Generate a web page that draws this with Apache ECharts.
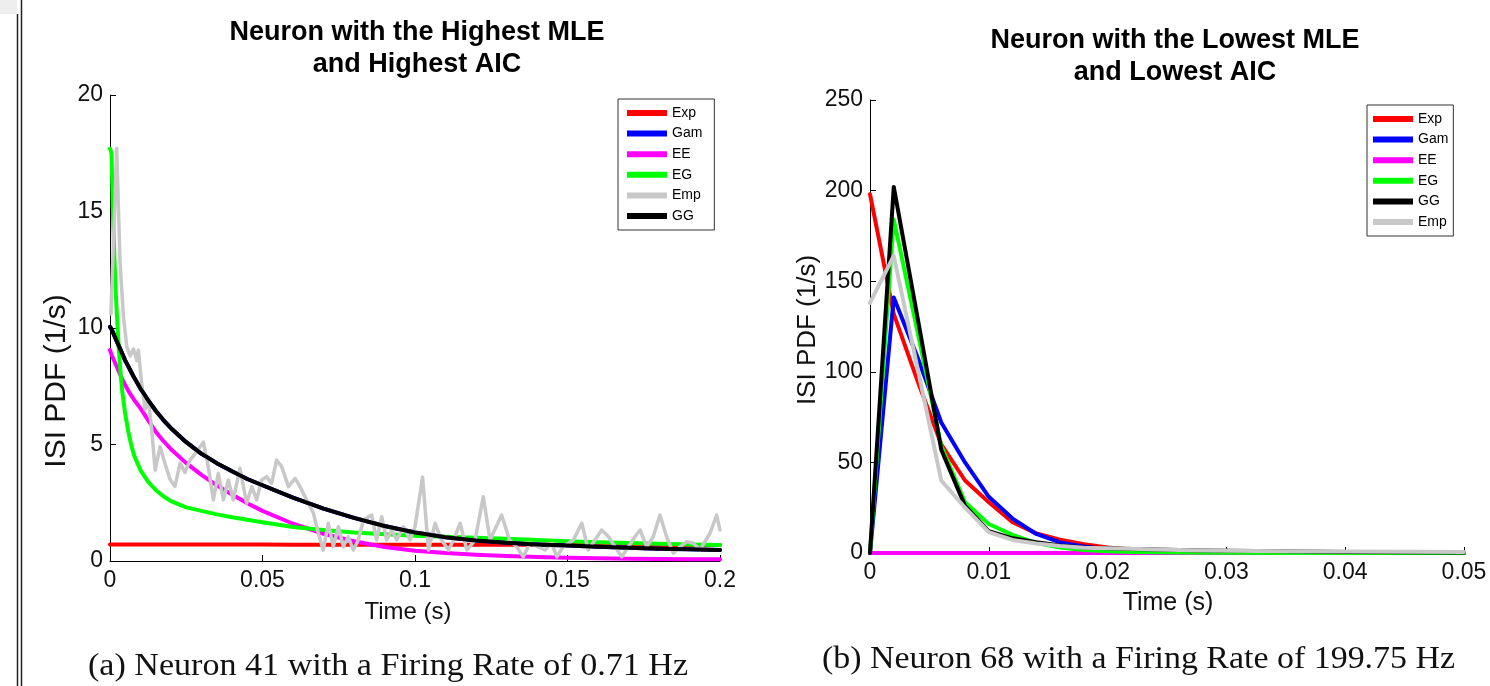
<!DOCTYPE html>
<html>
<head>
<meta charset="utf-8">
<script src="https://cdn.jsdelivr.net/npm/echarts@6/dist/echarts.min.js"></script>
<style>
html,body{margin:0;padding:0;background:#fff;}
#chart{width:1490px;height:686px;}
</style>
</head>
<body>
<div id="chart"></div>
<script>
// ---------------- Left panel (Neuron 41) ----------------
const leftTime = [0, 0.0005, 0.001, 0.0015, 0.002, 0.0025, 0.003, 0.0035, 0.004, 0.005, 0.006, 0.007,
  0.008, 0.01, 0.0125, 0.015, 0.0175, 0.02, 0.025, 0.03, 0.035, 0.04, 0.045, 0.05,
  0.06, 0.07, 0.08, 0.09, 0.1, 0.11, 0.12, 0.13, 0.14, 0.15, 0.16, 0.17, 0.18, 0.19, 0.2];
const leftExp = [0.71, 0.71, 0.71, 0.71, 0.71, 0.71, 0.71, 0.71, 0.71, 0.71, 0.71, 0.71,
  0.71, 0.71, 0.71, 0.71, 0.71, 0.71, 0.71, 0.71, 0.71, 0.71, 0.71, 0.71,
  0.70, 0.70, 0.70, 0.70, 0.70, 0.70, 0.70, 0.70, 0.70, 0.69, 0.69, 0.69, 0.69, 0.69, 0.69];
const leftGG = [10.05, 9.95, 9.8, 9.65, 9.5, 9.35, 9.2, 9.05, 8.9, 8.6, 8.35, 8.1,
  7.85, 7.4, 6.9, 6.45, 6.05, 5.7, 5.1, 4.6, 4.2, 3.85, 3.52, 3.25,
  2.72, 2.25, 1.85, 1.5, 1.22, 1.02, 0.88, 0.78, 0.71, 0.66, 0.61, 0.57, 0.53, 0.5, 0.47];
const leftGam = leftGG.slice(); // the blue curve lies hidden under the black GG curve
const leftEE = [9.05, 8.85, 8.7, 8.55, 8.4, 8.25, 8.1, 7.95, 7.8, 7.55, 7.3, 7.1,
  6.9, 6.55, 6.05, 5.55, 5.15, 4.8, 4.2, 3.7, 3.25, 2.85, 2.48, 2.15,
  1.6, 1.17, 0.85, 0.6, 0.44, 0.34, 0.27, 0.21, 0.17, 0.14, 0.12, 0.1, 0.09, 0.08, 0.07];
const leftEG = [17.7, 17.5, 14.8, 12.8, 11.2, 10.0, 8.9, 8.0, 7.3, 6.3, 5.55, 4.95,
  4.5, 3.9, 3.4, 3.05, 2.78, 2.57, 2.3, 2.15, 2.0, 1.88, 1.77, 1.66,
  1.46, 1.33, 1.22, 1.15, 1.08, 1.04, 1.0, 0.95, 0.9, 0.85, 0.8, 0.77, 0.74, 0.71, 0.69];
const leftEmpTime = [0.0003, 0.0022, 0.0027, 0.0033, 0.0044, 0.0055, 0.0066, 0.0077, 0.0088, 0.0093,
  0.0104, 0.0115, 0.0126, 0.0137, 0.0148, 0.0164, 0.018, 0.0197, 0.0213, 0.023, 0.0246, 0.0262,
  0.0279, 0.0306, 0.0322, 0.0339, 0.0355, 0.0372, 0.0388, 0.0404, 0.0426, 0.0448, 0.0465, 0.0481,
  0.0497, 0.0514, 0.053, 0.0546, 0.0563, 0.0585, 0.0607, 0.0623, 0.0645, 0.0667, 0.0683, 0.0699,
  0.0716, 0.0732, 0.0749, 0.0765, 0.0781, 0.0798, 0.0814, 0.0831, 0.0858, 0.0874, 0.0891, 0.0907,
  0.0924, 0.094, 0.0962, 0.0984, 0.1, 0.1025, 0.1044, 0.1066, 0.1087, 0.111, 0.1126, 0.1148, 0.117,
  0.1197, 0.1224, 0.1246, 0.1284, 0.131, 0.1333, 0.1355, 0.1377, 0.1404, 0.1426, 0.1448, 0.1465,
  0.1486, 0.1519, 0.1547, 0.1568, 0.159, 0.1612, 0.1634, 0.1656, 0.1678, 0.17, 0.1721, 0.1738,
  0.176, 0.1781, 0.1803, 0.1825, 0.1847, 0.1869, 0.1891, 0.1913, 0.1934, 0.1967, 0.1989, 0.2];
const leftEmp = [10.6, 17.7, 17.7, 12.8, 10.5, 9.2, 8.8, 9.1, 8.6, 9.05,
  7.6, 6.5, 6.9, 5.6, 3.9, 4.9, 4.2, 3.5, 3.2, 4.2, 3.8, 4.33,
  4.6, 5.1, 4.05, 2.62, 3.76, 2.62, 3.48, 2.62, 3.98, 2.48, 3.19, 2.62,
  3.48, 3.62, 3.33, 4.33, 4.05, 3.19, 3.55, 3.19, 2.62, 2.05, 1.19, 0.47,
  1.62, 0.61, 1.47, 0.61, 1.04, 0.47, 0.9, 1.76, 1.97, 0.9, 1.9, 0.9,
  1.33, 0.9, 1.47, 0.9, 1.47, 3.6, 0.47, 1.62, 0.9, 0.47, 0.9, 1.62, 0.47,
  0.9, 2.76, 0.9, 1.97, 0.9, 0.61, 0.18, 0.76, 0.61, 0.47, 0.76, 0.18,
  0.61, 0.9, 1.62, 0.47, 0.9, 1.33, 1.05, 0.61, 0.18, 0.61, 1.04, 1.33,
  0.61, 1.04, 1.97, 1.04, 0.33, 0.61, 0.83, 0.76, 0.47, 1.19, 1.97, 1.33];
const leftXTicks = ['0', '0.05', '0.1', '0.15', '0.2'];
const leftYTicks = ['0', '5', '10', '15', '20'];

// ---------------- Right panel (Neuron 68) ----------------
const rightTime = [0, 0.002, 0.004, 0.006, 0.008, 0.01, 0.012, 0.014, 0.016, 0.018, 0.02,
  0.022, 0.024, 0.026, 0.028, 0.03, 0.035, 0.04, 0.045, 0.05];
const rightExp = [198, 132, 95, 60, 40, 28, 17, 10.8, 7.3, 4.8, 3.0, 2.0, 1.3, 0.9, 0.6, 0.4, 0.2, 0.1, 0.05, 0.02];
const rightGam = [0, 141, 108, 72, 50, 31, 19, 10.5, 5.8, 3.6, 2.0, 1.2, 0.7, 0.4, 0.25, 0.15, 0.05, 0.02, 0, 0];
const rightEE = [0, 0, 0, 0, 0, 0, 0, 0, 0, 0, 0, 0, 0, 0, 0, 0, 0, 0, 0, 0];
const rightEG = [0, 184, 122, 59, 28, 16, 10, 5.5, 3.0, 1.7, 1.0, 0.6, 0.4, 0.25, 0.15, 0.1, 0.05, 0.02, 0.01, 0];
const rightGG = [0, 202, 130, 57, 26, 12, 8.1, 6.0, 4.2, 3.1, 2.6, 2.2, 1.9, 1.6, 1.4, 1.2, 0.9, 0.6, 0.4, 0.3];
const rightEmp = [138, 164, 102, 40, 25, 11.5, 7.2, 5.2, 3.9, 2.9, 2.6, 2.4, 2.0, 1.7, 1.4, 1.2, 0.9, 0.8, 0.7, 0.6];
const rightXTicks = ['0', '0.01', '0.02', '0.03', '0.04', '0.05'];
const rightYTicks = ['0', '50', '100', '150', '200', '250'];

const colors = {Exp: '#ff0000', Gam: '#0000ff', EE: '#ff00ff', EG: '#00ff00', Emp: '#c8c8c8', GG: '#000000'};

function pairs(xs, ys) { return xs.map((x, i) => [x, ys[i]]); }
function tickFmt(labels, step) {
  return function (v) { const i = Math.round(v / step); return labels[i] !== undefined ? labels[i] : ''; };
}
function mkSeries(name, xs, ys, idx, width) {
  return {
    name: name, type: 'line', xAxisIndex: idx, yAxisIndex: idx,
    data: pairs(xs, ys), showSymbol: false, symbol: 'none', smooth: false,
    lineStyle: {color: colors[name], width: width, join: 'round', cap: 'round'},
    itemStyle: {color: colors[name]},
    emphasis: {disabled: true}, animation: false, z: 2
  };
}

const FONT = 'Liberation Sans';
const axisCommon = {
  axisLine: {show: true, onZero: false, lineStyle: {color: '#000', width: 1}},
  axisTick: {show: true, inside: true, length: 6, lineStyle: {color: '#000'}},
  splitLine: {show: false}
};
function xAxis(idx, max, step, labels) {
  return Object.assign({}, axisCommon, {
    type: 'value', gridIndex: idx, min: 0, max: max, interval: step,
    axisLabel: {fontFamily: FONT, fontSize: 23, color: '#111', margin: 8, formatter: tickFmt(labels, step), showMaxLabel: true, showMinLabel: true}
  });
}
function yAxis(idx, max, step, labels) {
  return Object.assign({}, axisCommon, {
    type: 'value', gridIndex: idx, min: 0, max: max, interval: step,
    axisLabel: {fontFamily: FONT, fontSize: 23, color: '#111', margin: 7, formatter: tickFmt(labels, step)}
  });
}

const legendCommon = {
  orient: 'vertical', icon: 'rect', itemWidth: 40, itemHeight: 6, itemGap: 6.6,
  borderColor: '#333', borderWidth: 1, borderRadius: 0, backgroundColor: '#fff',
  selectedMode: false,
  textStyle: {fontFamily: FONT, fontSize: 14, color: '#000', lineHeight: 14}
};

function label(text, x, y, size, rot) {
  return {type: 'text', x: x, y: y, rotation: rot || 0, silent: true, z: 10,
    style: {text: text, font: size + 'px "' + FONT + '"', fill: '#111', align: 'center', verticalAlign: 'middle'}};
}

const option = {
  backgroundColor: '#fff',
  animation: false,
  title: [
    {text: 'Neuron with the Highest MLE\nand Highest AIC', left: 412, top: 12, textAlign: 'center',
     textStyle: {fontFamily: FONT, fontWeight: 'bold', fontSize: 27, lineHeight: 32, color: '#000'}},
    {text: 'Neuron with the Lowest MLE\nand Lowest AIC', left: 1170, top: 20, textAlign: 'center',
     textStyle: {fontFamily: FONT, fontWeight: 'bold', fontSize: 27, lineHeight: 32, color: '#000'}}
  ],
  grid: [
    {left: 110, top: 95, width: 610, height: 466, containLabel: false},
    {left: 870, top: 100, width: 594, height: 453, containLabel: false}
  ],
  xAxis: [xAxis(0, 0.2, 0.05, leftXTicks), xAxis(1, 0.05, 0.01, rightXTicks)],
  yAxis: [yAxis(0, 20, 5, leftYTicks), yAxis(1, 250, 50, rightYTicks)],
  legend: [
    Object.assign({}, legendCommon, {left: 618, top: 99, padding: [7, 12, 7, 9],
      data: ['Exp', 'Gam', 'EE', 'EG', 'Emp', 'GG']}),
    Object.assign({}, legendCommon, {left: 1367, top: 105, padding: [7, 5, 7, 6],
      data: ['Exp', 'Gam', 'EE', 'EG', 'GG', 'Emp']})
  ],
  series: [
    mkSeries('Exp', leftTime, leftExp, 0, 4),
    mkSeries('Gam', leftTime, leftGam, 0, 4),
    mkSeries('EE', leftTime, leftEE, 0, 4),
    mkSeries('EG', leftTime, leftEG, 0, 4),
    mkSeries('Emp', leftEmpTime, leftEmp, 0, 3.5),
    mkSeries('GG', leftTime, leftGG, 0, 4),
    mkSeries('Exp', rightTime, rightExp, 1, 4),
    mkSeries('Gam', rightTime, rightGam, 1, 4),
    mkSeries('EE', rightTime, rightEE, 1, 4),
    mkSeries('EG', rightTime, rightEG, 1, 4),
    mkSeries('GG', rightTime, rightGG, 1, 4),
    mkSeries('Emp', rightTime, rightEmp, 1, 4)
  ],
  graphic: [
    {type: 'rect', shape: {x: 0, y: 0, width: 17, height: 14}, style: {fill: '#eeeeee'}, silent: true},
    {type: 'line', shape: {x1: 17.5, y1: 14, x2: 17.5, y2: 686}, style: {stroke: '#222', lineWidth: 1.5}, silent: true},
    {type: 'line', shape: {x1: 21.5, y1: 0, x2: 21.5, y2: 686}, style: {stroke: '#222', lineWidth: 1.5}, silent: true},
    label('ISI PDF (1/s)', 57, 381, 30, Math.PI / 2),
    label('ISI PDF (1/s)', 808, 330, 26, Math.PI / 2),
    label('Time (s)', 408, 612, 24),
    label('Time (s)', 1168, 603, 25),
    {type: 'text', x: 88, y: 667, scaleX: 1.065, silent: true,
     style: {text: '(a) Neuron 41 with a Firing Rate of 0.71 Hz', font: '32px "Liberation Serif"', fill: '#111', align: 'left', verticalAlign: 'middle'}},
    {type: 'text', x: 822, y: 660, scaleX: 1.06, silent: true,
     style: {text: '(b) Neuron 68 with a Firing Rate of 199.75 Hz', font: '32px "Liberation Serif"', fill: '#111', align: 'left', verticalAlign: 'middle'}}
  ]
};

const chart = echarts.init(document.getElementById('chart'), null, {renderer: 'canvas'});
chart.setOption(option);
</script>
</body>
</html>
